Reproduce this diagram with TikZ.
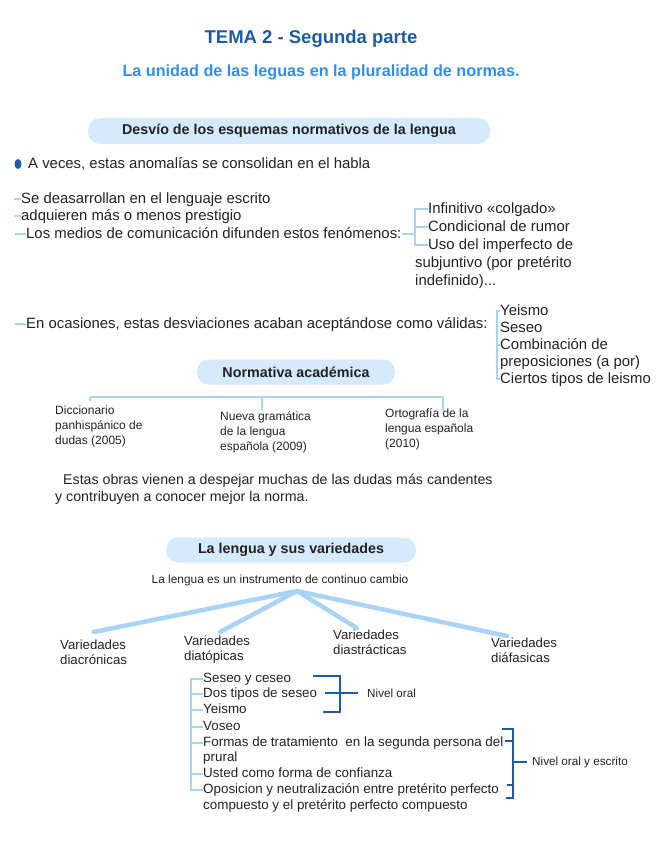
\documentclass[tikz,border=0pt]{standalone}
\usepackage{fontspec}
\setmainfont{Liberation Sans}
\usepackage{tikz}
\usetikzlibrary{shapes.geometric, positioning}
\definecolor{titleblue}{HTML}{1E5AA3}
\definecolor{subblue}{HTML}{2E8EF2}
\definecolor{pillblue}{HTML}{D5EAFC}
\definecolor{lineblue}{HTML}{A9D3F7}
\definecolor{darkblue}{HTML}{1F5AA6}
\definecolor{inkgray}{HTML}{222222}
\tikzstyle{pill} = [rectangle, rounded corners=12pt, fill=pillblue, minimum height=26pt, text centered, text=inkgray, font=\bfseries\fontsize{14.3}{16}\selectfont]
\tikzstyle{bodytext} = [anchor=west, inner sep=0pt, text=inkgray, text height=11pt, text depth=3pt, font=\fontsize{14.9}{18}\selectfont]
\tikzstyle{smalltext} = [anchor=north west, inner sep=0pt, align=left, text=inkgray, font=\fontsize{12}{15}\selectfont]
\tikzstyle{vartext} = [anchor=north west, inner sep=0pt, align=left, text=inkgray, font=\fontsize{13.2}{15}\selectfont]
\tikzstyle{listitem} = [anchor=west, inner sep=0pt, text=inkgray, text height=10pt, text depth=3pt, font=\fontsize{13.4}{16}\selectfont]
\tikzstyle{nivel} = [anchor=west, inner sep=0pt, text=inkgray, font=\fontsize{11.7}{13}\selectfont]
\tikzstyle{thinline} = [draw=lineblue, line width=1.2pt]
\tikzstyle{thickline} = [draw=lineblue, line width=4.5pt, line cap=round]
\tikzstyle{brace} = [draw=darkblue, line width=1.6pt]

\begin{document}
\begin{tikzpicture}[x=1pt, y=-1pt]
\useasboundingbox (0,0) rectangle (656,848);

% titles
\node (title) [font=\bfseries\fontsize{18.5}{22}\selectfont, text=titleblue] at (311,39) {TEMA 2 - Segunda parte};
\node (subtitle) [font=\bfseries\fontsize{16.2}{19}\selectfont, text=subblue] at (321,72) {La unidad de las leguas en la pluralidad de normas.};

% desvio
\node (desvio) [pill, minimum width=402pt] at (289,131) {Desvío de los esquemas normativos de la lengua};
\node (dot) [ellipse, fill=darkblue, minimum width=7pt, minimum height=10pt, inner sep=0pt] at (18,164) {};
\node (aveces) [bodytext] at (28,164) {A veces, estas anomalías se consolidan en el habla};

\node (escrito) [bodytext] at (21,199) {Se deasarrollan en el lenguaje escrito};
\node (prestigio) [bodytext] at (21,216) {adquieren más o menos prestigio};
\node (medios) [bodytext] at (26,234) {Los medios de comunicación difunden estos fenómenos:};
\node (colgado) [bodytext] at (428,209) {Infinitivo «colgado»};
\node (rumor) [bodytext] at (428,227) {Condicional de rumor};
\node (uso) [bodytext] at (428,245) {Uso del imperfecto de};
\node (subj) [bodytext] at (415,263) {subjuntivo (por pretérito};
\node (indef) [bodytext] at (415,281) {indefinido)...};

\node (validas) [bodytext] at (26,324) {En ocasiones, estas desviaciones acaban aceptándose como válidas:};
\node (yeismo) [bodytext] at (500,311) {Yeismo};
\node (seseo) [bodytext] at (500,328) {Seseo};
\node (comb) [bodytext] at (500,345) {Combinación de};
\node (prep) [bodytext] at (500,362) {preposiciones (a por)};
\node (leismo) [bodytext] at (500,379) {Ciertos tipos de leismo};

\draw [thinline] (escrito.west) -- ++(-7,0);
\draw [thinline] (prestigio.west) -- ++(-7,0);
\draw [thinline] (medios.west) -- ++(-11,0);
\draw [thinline] (validas.west) -- ++(-11,0);
\draw [thinline] (medios.east) -- (medios.east -| subj.west);
\draw [thinline] (colgado.west) -- ++(-13,0) |- (uso.west);
\draw [thinline] (rumor.west) -- ++(-13,0);
\draw [thinline] (yeismo.west) -- ++(-3,0) |- (leismo.west);
\draw [thinline] (comb.west) -- ++(-3,0);

% normativa
\node (normativa) [pill, minimum width=198pt, minimum height=25pt] at (296,372) {Normativa académica};
\node (dicc) [smalltext] at (55,406) {Diccionario\\panhispánico de\\dudas (2005)};
\node (gram) [smalltext] at (220,411) {Nueva gramática\\de la lengua\\española (2009)};
\node (orto) [smalltext] at (385,408) {Ortografía de la\\lengua española\\(2010)};
\coordinate (barl) at (90,397);
\coordinate (barm) at (262,397);
\coordinate (barr) at (443,397);
\draw [thinline] (barl) -- (barr);
\draw [thinline] (barl) -- ++(0,4);
\draw [thinline] (barm) -- ++(0,13);
\draw [thinline] (barr) -- ++(0,14);

\node (obras) [bodytext, font=\fontsize{14.2}{18}\selectfont] at (63,480) {Estas obras vienen a despejar muchas de las dudas más candentes};
\node (norma) [bodytext, font=\fontsize{14.2}{18}\selectfont] at (55,497) {y contribuyen a conocer mejor la norma.};

% variedades
\node (lengua) [pill, minimum width=250pt, minimum height=25pt] at (291,550) {La lengua y sus variedades};
\node (cambio) [font=\fontsize{11.9}{14}\selectfont, text=inkgray] at (280,580) {La lengua es un instrumento de continuo cambio};
\coordinate (hub) at (297,591);
\node (diacr) [vartext] at (60,640) {Variedades\\diacrónicas};
\node (diato) [vartext] at (184,636) {Variedades\\diatópicas};
\node (diastr) [vartext] at (333,630) {Variedades\\ diastrácticas};
\node (diafa) [vartext] at (491,638) {Variedades\\diáfasicas};
\draw [thickline] (hub) -- ([xshift=0pt, yshift=8pt]diacr.north);
\draw [thickline] (hub) -- ([xshift=3pt, yshift=4pt]diato.north);
\draw [thickline] (hub) -- ([xshift=-13pt, yshift=2pt]diastr.north);
\draw [thickline] (hub) -- ([xshift=-17pt, yshift=2pt]diafa.north);

\node (sc) [listitem] at (203,679) {Seseo y ceseo};
\node (dts) [listitem] at (203,694) {Dos tipos de seseo};
\node (yei) [listitem] at (203,710) {Yeismo};
\node (vos) [listitem] at (203,727) {Voseo};
\node (form) [listitem] at (203,743) {Formas de tratamiento \ en la segunda persona del};
\node (prur) [listitem] at (203,758) {prural};
\node (ust) [listitem] at (203,774) {Usted como forma de confianza};
\node (opo) [listitem] at (203,790) {Oposicion y neutralización entre pretérito perfecto};
\node (comp) [listitem] at (203,806) {compuesto y el pretérito perfecto compuesto};
\draw [thinline] (sc.west) -- ++(-12,0) |- (opo.west);
\draw [thinline] (dts.west) -- ++(-12,0);
\draw [thinline] (yei.west) -- ++(-12,0);
\draw [thinline] (vos.west) -- ++(-12,0);
\draw [thinline] (form.west) -- ++(-12,0);
\draw [thinline] (ust.west) -- ++(-12,0);

\node (oral) [nivel] at (367,693) {Nivel oral};
\draw [brace] (313,676) -- (340,676) -- (340,712) -- (323,712);
\draw [brace] (oral.west) ++(-9,0) -- ++(-33,0);
\node (escr) [nivel] at (532,762) {Nivel oral y escrito};
\draw [brace] (502,729) -- (513,729) -- (513,798) -- (506,798);
\draw [brace] (505,741) -- (513,741);
\draw [brace] (507,785) -- (513,785);
\draw [brace] (escr.west) ++(-5,0) -- ++(-14,0);

\end{tikzpicture}
\end{document}
